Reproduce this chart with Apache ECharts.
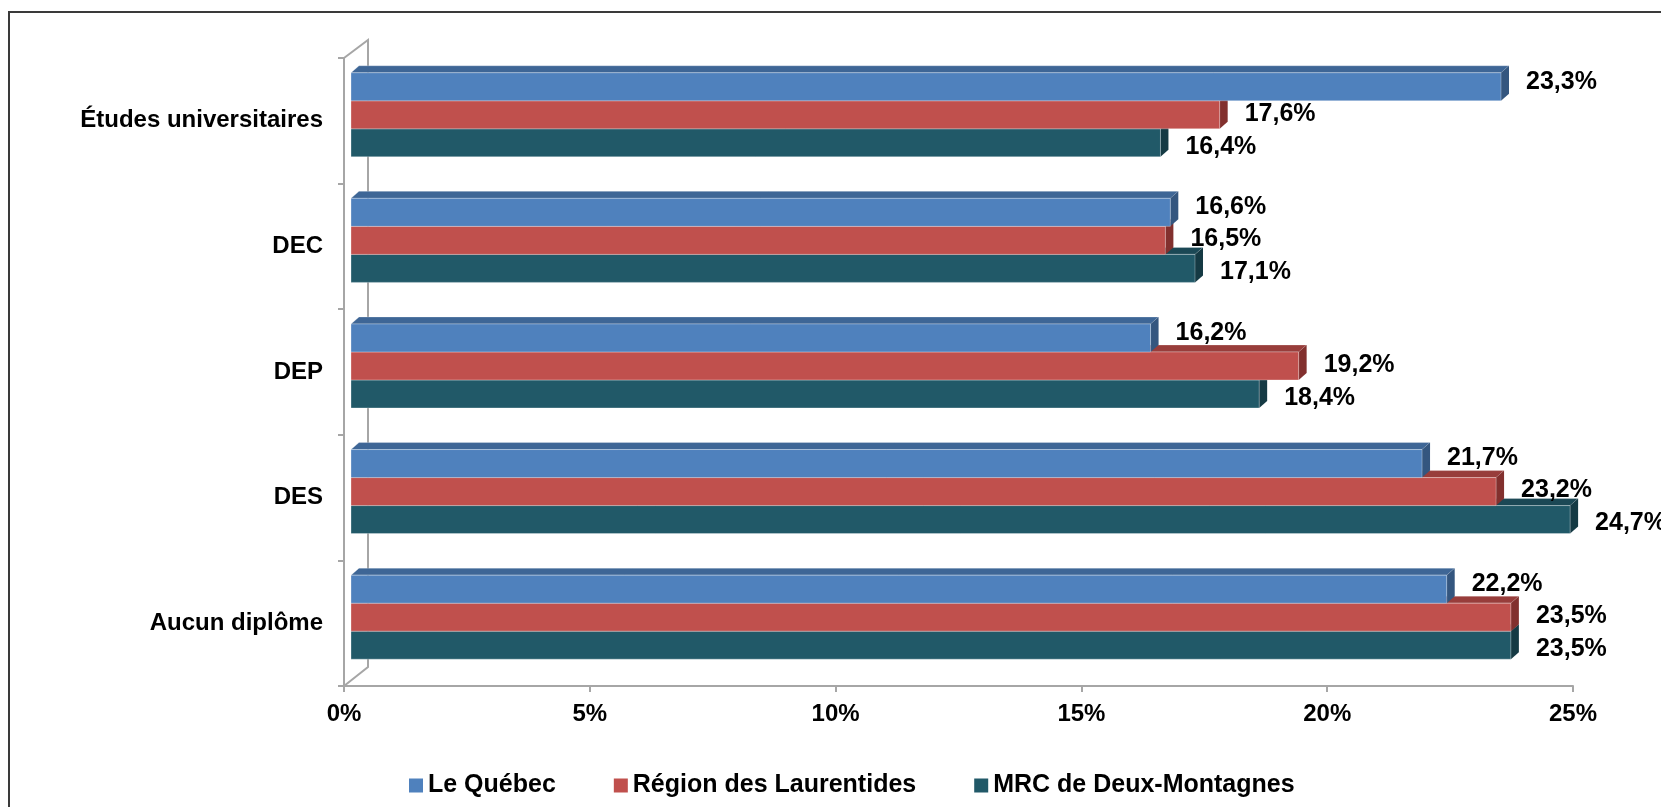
<!DOCTYPE html>
<html lang="fr">
<head>
<meta charset="utf-8">
<title>Plus haut niveau de scolarité atteint</title>
<script src="https://cdn.jsdelivr.net/npm/echarts@6/dist/echarts.min.js"></script>
<style>
  html, body { margin: 0; padding: 0; background: #fff; }
  #chart { width: 1661px; height: 807px; }
</style>
</head>
<body>
<div id="chart"></div>
<script>
// Categories, top to bottom
const categories = ['Études universitaires', 'DEC', 'DEP', 'DES', 'Aucun diplôme'];

// Series values (%)
const quebec = [23.3, 16.6, 16.2, 21.7, 22.2];
const laurentides = [17.6, 16.5, 19.2, 23.2, 23.5];
const deuxMontagnes = [16.4, 17.1, 18.4, 24.7, 23.5];

const seriesNames = ['Le Québec', 'Région des Laurentides', 'MRC de Deux-Montagnes'];
const xTicks = [0, 5, 10, 15, 20, 25];

const FONT = '"Liberation Sans", Arial, sans-serif';

// front / top / side shades for the fake 3D bars
const shades = [
  { front: '#4F81BD', top: '#3E6696', side: '#34567F' },
  { front: '#C0504D', top: '#983D3B', side: '#82302E' },
  { front: '#215968', top: '#1B4855', side: '#153A44' },
];
const allValues = [quebec, laurentides, deuxMontagnes];

// 3D depth of the bars and of the back wall
const BAR_DX = 8, BAR_DY = 7;
const WALL_DX = 24, WALL_DY = 18;
const labelShift = [-5, -1, 4];

function formatPct(v) {
  return v.toFixed(1).replace('.', ',') + '%';
}

// geometry of one bar, computed from the axes
function barGeom(params, api, serieIdx) {
  const cs = params.coordSys;
  const cat = api.value(1);
  const band = api.size([0, 1])[1];
  const barH = band * 0.223;
  const cy = api.coord([0, cat])[1];
  const groupTop = cy - band * 0.048 - 1.5 * barH;
  const y0 = groupTop + serieIdx * barH;
  const xBase = cs.x + 7;
  const xEnd = xBase + (api.coord([api.value(0), cat])[0] - cs.x) * 1.004;
  return { xBase, xEnd, y0, y1: y0 + barH };
}

function makeBarRenderer(serieIdx) {
  const c = shades[serieIdx];
  return function (params, api) {
    const g = barGeom(params, api, serieIdx);
    return {
      type: 'group',
      children: [
        {
          type: 'polygon',
          shape: { points: [[g.xBase, g.y0], [g.xEnd, g.y0], [g.xEnd + BAR_DX, g.y0 - BAR_DY], [g.xBase + BAR_DX, g.y0 - BAR_DY]] },
          style: { fill: c.top, stroke: 'rgba(255,255,255,0.25)', lineWidth: 1 },
        },
        {
          type: 'polygon',
          shape: { points: [[g.xEnd, g.y0], [g.xEnd + BAR_DX, g.y0 - BAR_DY], [g.xEnd + BAR_DX, g.y1 - BAR_DY], [g.xEnd, g.y1]] },
          style: { fill: c.side },
        },
        {
          type: 'rect',
          shape: { x: g.xBase, y: g.y0, width: g.xEnd - g.xBase, height: g.y1 - g.y0 },
          style: { fill: c.front, stroke: 'rgba(255,255,255,0.3)', lineWidth: 1 },
        },
      ],
    };
  };
}

function toData(values) {
  return values.map((v, i) => [v, i]);
}

const barSeries = allValues.map((values, s) => ({
  name: seriesNames[s],
  type: 'custom',
  z: 4 - s,
  silent: true,
  itemStyle: { color: shades[s].front },
  encode: { x: 0, y: 1 },
  data: toData(values),
  renderItem: makeBarRenderer(s),
}));

// value labels, drawn above every bar
const labelData = [];
allValues.forEach((values, s) => values.forEach((v, i) => labelData.push([v, i, s])));

const labelSeries = {
  type: 'custom',
  z: 10,
  silent: true,
  encode: { x: 0, y: 1 },
  data: labelData,
  renderItem(params, api) {
    const s = api.value(2);
    const g = barGeom(params, api, s);
    return {
      type: 'text',
      style: {
        x: g.xEnd + 25,
        y: (g.y0 + g.y1) / 2 + labelShift[s],
        text: formatPct(api.value(0)),
        font: 'bold 25px ' + FONT,
        fill: '#000',
        verticalAlign: 'middle',
        align: 'left',
      },
    };
  },
};

// back wall lines of the 3D plot area
const wallSeries = {
  type: 'custom',
  z: 1,
  silent: true,
  data: [[0, 0]],
  renderItem(params) {
    const cs = params.coordSys;
    const x = cs.x, y = cs.y, h = cs.height;
    return {
      type: 'polyline',
      shape: {
        points: [[x, y], [x + WALL_DX, y - WALL_DY], [x + WALL_DX, y + h - WALL_DY - 1], [x, y + h]],
      },
      style: { stroke: '#A6A6A6', lineWidth: 2, fill: null },
    };
  },
};

const chart = echarts.init(document.getElementById('chart'));

chart.setOption({
  animation: false,
  backgroundColor: '#fff',
  textStyle: { fontFamily: FONT },
  grid: { left: 344, right: 88, top: 58, bottom: 121, containLabel: false },
  graphic: [
    {
      type: 'rect',
      shape: { x: 9, y: 12, width: 1700, height: 900 },
      style: { fill: 'none', stroke: '#3A3A3A', lineWidth: 2 },
    },
  ],
  legend: {
    data: seriesNames,
    left: 409,
    top: 773,
    padding: 0,
    itemGap: 58,
    itemWidth: 14,
    itemHeight: 14,
    icon: 'rect',
    selectedMode: false,
    textStyle: { fontSize: 25, fontWeight: 'bold', color: '#000', fontFamily: FONT },
  },
  xAxis: {
    type: 'value',
    min: xTicks[0],
    max: xTicks[xTicks.length - 1],
    interval: xTicks[1] - xTicks[0],
    splitLine: { show: false },
    axisLine: { show: true, lineStyle: { color: '#A6A6A6', width: 2 } },
    axisTick: { show: true, length: 6, lineStyle: { color: '#A6A6A6', width: 2 } },
    axisLabel: {
      formatter: '{value}%',
      margin: 16,
      fontSize: 24,
      fontWeight: 'bold',
      color: '#000',
      fontFamily: FONT,
      textStyle: { fontSize: 24 },
    },
  },
  yAxis: {
    type: 'category',
    inverse: true,
    data: categories,
    axisLine: { show: true, lineStyle: { color: '#A6A6A6', width: 2 } },
    axisTick: { show: true, length: 6, lineStyle: { color: '#A6A6A6', width: 2 } },
    axisLabel: {
      margin: 21,
      fontSize: 24,
      fontWeight: 'bold',
      color: '#000',
      fontFamily: FONT,
    },
  },
  series: [wallSeries, ...barSeries, labelSeries],
});
</script>
</body>
</html>
